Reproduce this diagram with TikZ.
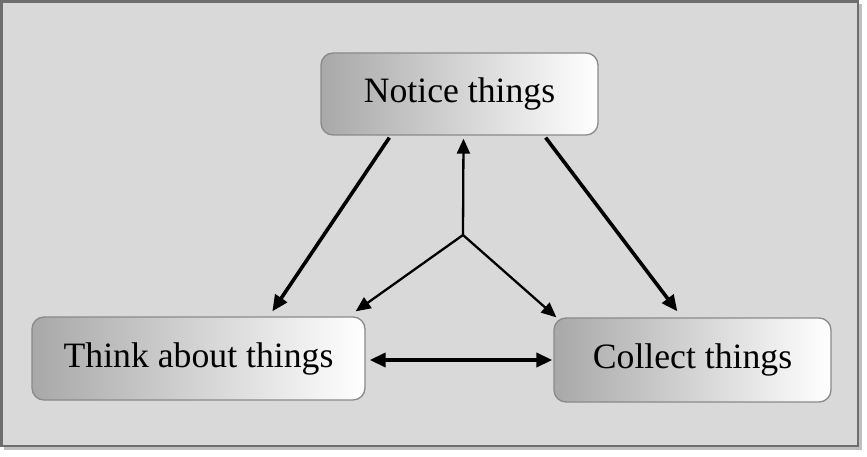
\documentclass[tikz,border=0pt]{standalone}
\usepackage{fontspec}
\setmainfont{Liberation Serif}
\usetikzlibrary{arrows.meta,positioning}
\definecolor{panelgray}{HTML}{D9D9D9}
\definecolor{framegray}{HTML}{6E6E6E}
\definecolor{boxedge}{HTML}{8A8A8A}
\tikzset{
  stagebox/.style={rectangle, rounded corners=12pt, draw=boxedge, line width=1.3pt,
    left color=black!34, right color=white, inner sep=0pt,
    font=\fontsize{35.7}{40}\selectfont, text=black},
  bigarrow/.style={line width=3.6pt, -{Triangle[length=16pt,width=14pt]}},
  hubarrow/.style={line width=2.3pt, -{Triangle[length=15pt,width=13pt]}},
}

\begin{document}
\begin{tikzpicture}[x=1pt,y=-1pt]
\useasboundingbox (0,0) rectangle (867,457);
\fill[white] (0,0) rectangle (867,457);
% panel with its shadow
\fill[black!25] (4,4) rectangle (862,450);
\draw[framegray, fill=panelgray, line width=2.5pt] (1.5,1.5) rectangle (858,446);

\node[stagebox, minimum width=277pt, minimum height=82pt] (notice) at (459.5,94) {Notice things};
\node[stagebox, minimum width=333pt, minimum height=83pt] (think) at (198.5,358.5) {Think about things};
\node[stagebox, minimum width=277pt, minimum height=84pt] (collect) at (692.5,360) {Collect things};

\draw[bigarrow] ([xshift=69pt,yshift=-2pt]notice.south west) -- ([xshift=241pt,yshift=5pt]think.north west);
\draw[bigarrow] ([xshift=-53pt,yshift=-2pt]notice.south east) -- ([xshift=124pt,yshift=6pt]collect.north west);

\coordinate (hub) at (463,235);
\draw[hubarrow] (hub) -- ([xshift=4pt,yshift=-3pt]notice.south);
\draw[hubarrow] (hub) -- ([xshift=-10pt,yshift=5pt]think.north east);
\draw[hubarrow] (hub) -- ([xshift=3pt]collect.north west);

\draw[line width=3.6pt, {Triangle[length=16pt,width=14pt]}-{Triangle[length=16pt,width=14pt]}]
  ([xshift=4pt,yshift=-1.5pt]think.east) -- ([xshift=-1pt]collect.west);
\end{tikzpicture}
\end{document}
